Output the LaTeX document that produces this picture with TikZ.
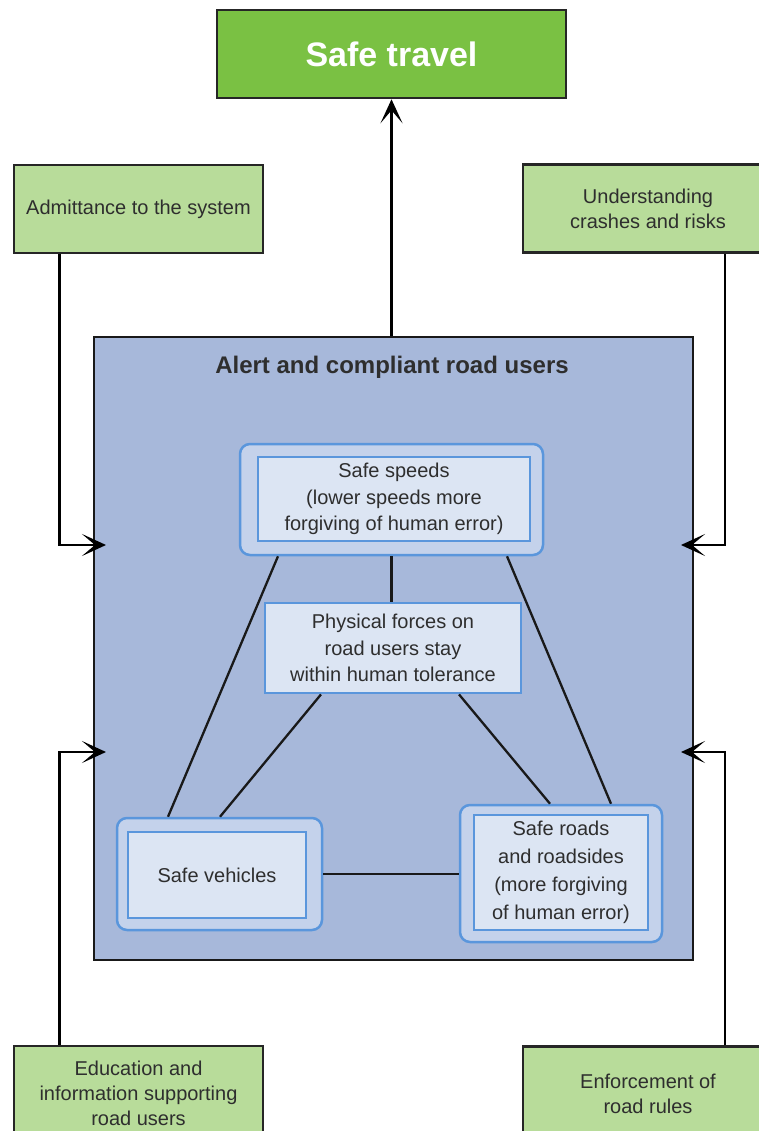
\documentclass[tikz,border=0pt]{standalone}
\usepackage{fontspec}
\setmainfont{Liberation Sans}
\usetikzlibrary{arrows.meta}
\definecolor{stgreen}{HTML}{7AC143}
\definecolor{ltgreen}{HTML}{B8DC9A}
\definecolor{mainblue}{HTML}{A7B8DA}
\definecolor{edgeblue}{HTML}{5A96DC}
\definecolor{outerfill}{HTML}{C4D2EB}
\definecolor{innerfill}{HTML}{DCE5F3}
\definecolor{txt}{HTML}{2E2E2E}
\tikzset{
  greenbox/.style={draw=black!85, line width=2.5pt, fill=ltgreen, minimum height=88pt,
    inner sep=0pt, align=center, text=txt, font=\fontsize{20}{25}\selectfont},
  outerbox/.style={draw=edgeblue, line width=2.5pt, fill=outerfill, rounded corners=10pt, inner sep=0pt},
  innerbox/.style={draw=edgeblue, line width=2.8pt, fill=innerfill, inner sep=0pt, align=center,
    text=txt, font=\fontsize{20}{26.5}\selectfont},
  arr/.style={-{Stealth[length=24pt,width=22pt,inset=13pt]}, line width=2.8pt, draw=black},
  link/.style={line width=2.3pt, draw=black!90},
}
\begin{document}
\begin{tikzpicture}[x=1pt,y=-1pt]
\useasboundingbox (0,0) rectangle (758,1131);
\fill[white] (0,0) rectangle (758,1131);

% goal
\node[draw=black!85, line width=2.5pt, fill=stgreen, minimum width=349pt, minimum height=88pt,
  inner sep=0pt, text=white, font=\bfseries\fontsize{34}{40}\selectfont] (goal) at (391.5,54) {Safe travel};

% side boxes
\node[greenbox, minimum width=249pt] (adm) at (138.5,209) {Admittance to the system};
\node[greenbox, minimum width=250pt] (und) at (648,208.5) {Understanding\\crashes and risks};
\node[greenbox, minimum width=249pt, minimum height=94pt] (edu) at (138.5,1093) {Education and\\information supporting\\road users};
\node[greenbox, minimum width=250pt, minimum height=94pt] (enf) at (648,1093.5) {Enforcement of\\road rules};

% main box
\node[draw=black!90, line width=2.5pt, fill=mainblue, minimum width=599pt, minimum height=623pt, inner sep=0pt] (main) at (393.5,648.5) {};
\node[font=\bfseries\fontsize{24}{28}\selectfont, text=txt, inner sep=0pt] (title) at (392,367) {Alert and compliant road users};

% safe speeds
\node[outerbox, minimum width=303pt, minimum height=111pt] (ssout) at (391.5,499.5) {};
\node[innerbox, minimum width=272pt, minimum height=84pt] (ss) at (394,499) {Safe speeds\\(lower speeds more\\forgiving of human error)};

% physical forces
\node[innerbox, minimum width=256pt, minimum height=90pt] (pf) at (393,648) {Physical forces on\\road users stay\\within human tolerance};

% safe vehicles
\node[outerbox, minimum width=205pt, minimum height=112pt] (svout) at (219.5,874) {};
\node[innerbox, minimum width=178pt, minimum height=86pt] (sv) at (217,875) {Safe vehicles};

% safe roads
\node[outerbox, minimum width=202pt, minimum height=137pt] (srout) at (561,873.5) {};
\node[innerbox, minimum width=174pt, minimum height=115pt, font=\fontsize{20}{28}\selectfont] (sr) at (561,872.5) {Safe roads\\and roadsides\\(more forgiving\\of human error)};

% links inside
\draw[link] (ssout.south) -- (ssout.south |- pf.north);
\draw[link] ([xshift=-113.5pt]ssout.south) -- ([xshift=-51.5pt]svout.north);
\draw[link] ([xshift=115.5pt]ssout.south) -- ([xshift=50pt]srout.north);
\draw[link] ([xshift=-72pt]pf.south) -- ([xshift=0.5pt]svout.north);
\draw[link] ([xshift=66pt]pf.south) -- ([xshift=-11pt]srout.north);
\draw[link] (svout.east) -- (svout.east -| srout.west);

% arrows
\coordinate (inA) at (106,545);
\coordinate (inB) at (681,545);
\coordinate (inC) at (106,752);
\coordinate (inD) at (681,752);
\draw[arr] (main.north -| goal.south) -- (goal.south);
\draw[arr] ([xshift=-79pt]adm.south) |- (inA);
\draw[arr] ([xshift=77pt]und.south) |- (inB);
\draw[arr] ([xshift=-79pt]edu.north) |- (inC);
\draw[arr] ([xshift=77pt]enf.north) |- (inD);
\end{tikzpicture}
\end{document}
